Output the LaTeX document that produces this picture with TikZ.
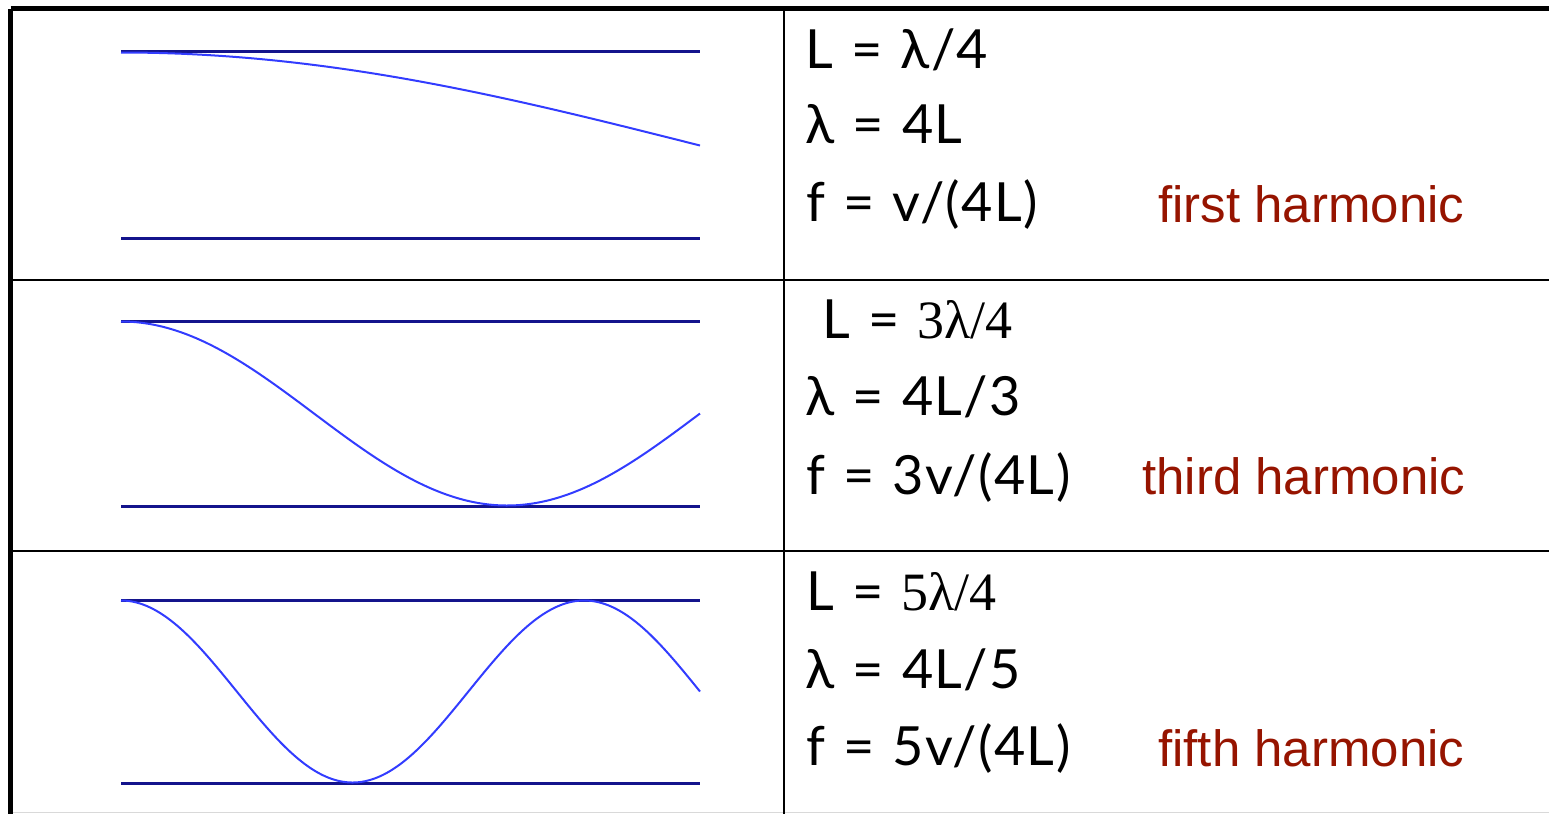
\documentclass[tikz,border=0pt]{standalone}
\usepackage{fontspec}
\setmainfont{Lato}[WordSpace=1.2,LetterSpace=2.5]
\newfontfamily\redfont{Liberation Sans}
\newfontfamily\seriffont{Liberation Serif}
\definecolor{linenavy}{RGB}{20,20,140}
\definecolor{wavecol}{RGB}{50,60,255}
\definecolor{harmred}{RGB}{150,20,0}
\tikzset{
  frame/.style={line width=5pt, black},
  grid/.style={line width=2pt, black},
  bound/.style={line width=3pt, linenavy},
  wave/.style={line width=2pt, wavecol},
  eq/.style={anchor=base west, inner sep=0pt, font=\fontsize{54}{60}\selectfont},
  harm/.style={anchor=base west, inner sep=0pt, text=harmred, font=\redfont\fontsize{51}{60}\selectfont},
}
\begin{document}
\begin{tikzpicture}[x=1pt,y=-1pt]
\useasboundingbox (0,0) rectangle (1549,814);
% table
\coordinate (tl) at (10.5,8.5);
\coordinate (tr) at (1549,8.5);
\coordinate (bl) at (10.5,814);
\coordinate (vt) at (783.5,8.5);
\coordinate (vb) at (783.5,814);
\coordinate (h1l) at (10.5,280);
\coordinate (h1r) at (1549,280);
\coordinate (h2l) at (10.5,551);
\coordinate (h2r) at (1549,551);
\coordinate (bbl) at (10,812.5);
\coordinate (bbr) at (1549,812.5);
\draw[line width=1pt, black!15] (bbl) -- (bbr);
\draw[grid] (vt) -- (vb);
\draw[grid] (h1l) -- (h1r);
\draw[grid] (h2l) -- (h2r);
\draw[frame] (tl) -- (tr);
\draw[frame] (tl) -- (bl);
% row 1
\coordinate (a1) at (121,51); \coordinate (b1) at (700,51);
\coordinate (c1) at (121,238); \coordinate (d1) at (700,238);
\draw[bound] (a1) -- (b1);
\draw[bound] (c1) -- (d1);
\draw[wave] plot[domain=0:90, samples=120] ({121+\x/90*579},{145.5-93*cos(\x)});
% row 2
\coordinate (a2) at (121,321); \coordinate (b2) at (700,321);
\coordinate (c2) at (121,506); \coordinate (d2) at (700,506);
\draw[bound] (a2) -- (b2);
\draw[bound] (c2) -- (d2);
\draw[wave] plot[domain=0:270, samples=240] ({121+\x/270*579},{413.5-92*cos(\x)});
% row 3
\coordinate (a3) at (121,600); \coordinate (b3) at (700,600);
\coordinate (c3) at (121,783); \coordinate (d3) at (700,783);
\draw[bound] (a3) -- (b3);
\draw[bound] (c3) -- (d3);
\draw[wave] plot[domain=0:450, samples=360] ({121+\x/450*579},{691.5-91*cos(\x)});
% texts row 1
\node[eq] (t11) at (805,68) {L = λ/4};
\node[eq] (t12) at (805,143) {λ = 4L};
\node[eq] (t13) at (806,221) {f = v/(4L)};
\node[harm] (h1) at (1158,222) {first harmonic};
% texts row 2
\node[eq] (t21) at (822,338) {L = {\seriffont 3λ/4}};
\node[eq] (t22) at (805,415) {λ = 4L/3};
\node[eq] (t23) at (806,494) {f = 3v/(4L)};
\node[harm] (h2) at (1142,494) {third harmonic};
% texts row 3
\node[eq] (t31) at (806,610) {L = {\seriffont 5λ/4}};
\node[eq] (t32) at (805,688) {λ = 4L/5};
\node[eq] (t33) at (806,765) {f = 5v/(4L)};
\node[harm] (h3) at (1158,766) {fifth harmonic};
\end{tikzpicture}
\end{document}
